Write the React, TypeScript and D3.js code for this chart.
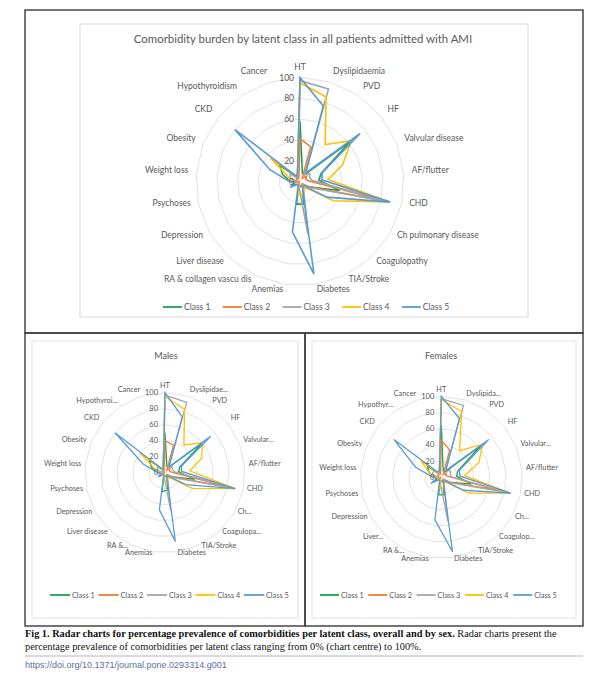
import React from 'react';
import * as d3 from 'd3';

// category order runs clockwise from the top (HT)
const categories = [
  'HT', 'Dyslipidaemia', 'PVD', 'HF', 'Valvular disease', 'AF/flutter', 'CHD',
  'Ch pulmonary disease', 'Coagulopathy', 'TIA/Stroke', 'Diabetes', 'Anemias',
  'RA & collagen vascu dis', 'Liver disease', 'Depression', 'Psychoses',
  'Weight loss', 'Obesity', 'CKD', 'Hypothyroidism', 'Cancer',
];
const maleLabels = [
  'HT', 'Dyslipidae...', 'PVD', 'HF', 'Valvular...', 'AF/flutter', 'CHD',
  'Ch...', 'Coagulopa...', 'TIA/Stroke', 'Diabetes', 'Anemias',
  'RA &...', 'Liver disease', 'Depression', 'Psychoses',
  'Weight loss', 'Obesity', 'CKD', 'Hypothyroi...', 'Cancer',
];
const femaleLabels = [
  'HT', 'Dyslipida...', 'PVD', 'HF', 'Valvular...', 'AF/flutter', 'CHD',
  'Ch...', 'Coagulop...', 'TIA/Stroke', 'Diabetes', 'Anemias',
  'RA &...', 'Liver...', 'Depression', 'Psychoses',
  'Weight loss', 'Obesity', 'CKD', 'Hypothyr...', 'Cancer',
];

const classNames = ['Class 1', 'Class 2', 'Class 3', 'Class 4', 'Class 5'];
const classColors = ['#1fa055', '#ed7d31', '#a5a5a5', '#ffc000', '#5b9bd5'];
const tickValues = [0, 20, 40, 60, 80, 100];

// % prevalence, all patients
const allClass1 = [58, 8, 8, 62, 22, 18, 39, 10, 4, 6, 22, 22, 3, 3, 8, 5, 10, 18, 25, 5, 8];
const allClass2 = [41, 35, 4, 8, 6, 8, 88, 10, 3, 4, 5, 3, 2, 2, 2, 1, 3, 4, 4, 3, 4];
const allClass3 = [97, 93, 8, 12, 10, 12, 88, 12, 4, 8, 51, 6, 3, 2, 3, 2, 4, 10, 12, 4, 8];
const allClass4 = [95, 85, 43, 63, 44, 27, 88, 37, 8, 8, 13, 13, 3, 3, 4, 4, 10, 12, 36, 7, 8];
const allClass5 = [100, 76, 10, 74, 23, 21, 89, 30, 6, 5, 90, 49, 4, 4, 11, 5, 12, 31, 80, 6, 8];

// % prevalence, males
const maleClass1 = [50, 8, 8, 60, 20, 17, 38, 10, 4, 6, 22, 24, 3, 3, 8, 5, 10, 18, 25, 4, 8];
const maleClass2 = [40, 36, 4, 8, 6, 8, 88, 10, 3, 4, 5, 3, 2, 2, 2, 1, 3, 4, 4, 2, 4];
const maleClass3 = [97, 92, 8, 12, 10, 12, 90, 12, 4, 8, 48, 6, 3, 2, 3, 2, 4, 10, 12, 3, 8];
const maleClass4 = [95, 83, 42, 60, 49, 31, 90, 39, 8, 8, 12, 12, 3, 3, 4, 4, 10, 14, 40, 5, 8];
const maleClass5 = [100, 73, 9, 73, 22, 21, 90, 30, 6, 5, 87, 47, 4, 4, 9, 5, 10, 29, 80, 5, 7];

// % prevalence, females
const femaleClass1 = [64, 8, 8, 62, 22, 19, 38, 12, 4, 6, 22, 22, 3, 3, 8, 5, 10, 16, 22, 6, 8];
const femaleClass2 = [46, 35, 4, 8, 6, 10, 72, 12, 3, 4, 6, 4, 3, 2, 3, 1, 3, 5, 5, 4, 4];
const femaleClass3 = [97, 93, 8, 14, 12, 12, 86, 14, 4, 8, 55, 8, 4, 3, 4, 2, 5, 12, 12, 6, 8];
const femaleClass4 = [96, 85, 40, 65, 50, 29, 88, 39, 8, 8, 14, 14, 3, 3, 5, 4, 10, 16, 32, 8, 8];
const femaleClass5 = [100, 76, 10, 75, 24, 23, 88, 32, 6, 5, 93, 53, 5, 4, 15, 6, 12, 34, 75, 8, 8];

const FONT = 'Lato, "Liberation Sans", Arial, sans-serif';
const SERIF = '"Liberation Serif", "Times New Roman", serif';
const TEXT = '#595959';

interface RadarProps {
  cx: number;
  cy: number;
  radius: number;
  labels: string[];
  series: number[][];
  labelSize: number;
  tickSize: number;
  labelGap: number;
  tickGap: number;
  strokeWidth: number;
}

const Radar: React.FC<RadarProps> = ({
  cx, cy, radius, labels, series, labelSize, tickSize, labelGap, tickGap, strokeWidth,
}) => {
  const n = labels.length;
  const angle = d3.scaleLinear().domain([0, n]).range([0, 2 * Math.PI]);
  const r = d3.scaleLinear().domain([0, 100]).range([0, radius]);

  const line = d3
    .lineRadial<number>()
    .angle((_, i) => angle(i))
    .radius((d) => r(d))
    .curve(d3.curveLinearClosed);

  return (
    <g>
      <g transform={`translate(${cx},${cy})`}>
        {tickValues.slice(1).map((t) => (
          <path key={t} d={line(labels.map(() => t)) ?? ''} fill="none" stroke="#d9d9d9" strokeWidth={0.8} />
        ))}
        <line x1={0} y1={0} x2={0} y2={-r(100)} stroke="#d9d9d9" strokeWidth={0.8} />
        {series.map((s, k) => (
          <path
            key={k}
            d={line(s) ?? ''}
            fill="none"
            stroke={classColors[k]}
            strokeWidth={strokeWidth}
            strokeLinejoin="miter"
          />
        ))}
        {tickValues.map((t) => (
          <text
            key={t}
            x={-tickGap}
            y={-r(t)}
            textAnchor="end"
            dominantBaseline="central"
            fontSize={tickSize}
            fill={TEXT}
            fontFamily={FONT}
          >
            {t}
          </text>
        ))}
      </g>
      {labels.map((lab, i) => {
        const a = angle(i);
        const s = Math.sin(a);
        const c = Math.cos(a);
        const rr = radius + labelGap;
        const anchor = Math.abs(s) < 0.1 ? 'middle' : s > 0 ? 'start' : 'end';
        return (
          <text
            key={lab + i}
            x={cx + rr * s}
            y={cy - rr * c - 3}
            textAnchor={anchor}
            dominantBaseline="central"
            fontSize={labelSize}
            fill={TEXT}
            fontFamily={FONT}
          >
            {lab}
          </text>
        );
      })}
    </g>
  );
};

interface LegendProps {
  x: number;
  y: number;
  step: number;
  lineLen: number;
  size: number;
}

const Legend: React.FC<LegendProps> = ({ x, y, step, lineLen, size }) => (
  <g>
    {classNames.map((name, k) => (
      <g key={name} transform={`translate(${x + k * step},${y})`}>
        <line x1={0} x2={lineLen} y1={0} y2={0} stroke={classColors[k]} strokeWidth={1.8} />
        <text x={lineLen + 2} y={0} dominantBaseline="central" fontSize={size} fill={TEXT} fontFamily={FONT}>
          {name}
        </text>
      </g>
    ))}
  </g>
);

const App: React.FC = () => {
  const allSeries = [allClass1, allClass2, allClass3, allClass4, allClass5];
  const maleSeries = [maleClass1, maleClass2, maleClass3, maleClass4, maleClass5];
  const femaleSeries = [femaleClass1, femaleClass2, femaleClass3, femaleClass4, femaleClass5];

  return (
    <div>
      <style>{'body{margin:0}'}</style>
      <svg width={600} height={680} style={{ display: 'block', background: '#fff' }}>
        {/* frames */}
        <rect x={25} y={10} width={558} height={323} fill="none" stroke="#3a3a3a" strokeWidth={1.4} />
        <rect x={25} y={333} width={280} height={293} fill="none" stroke="#3a3a3a" strokeWidth={1.4} />
        <rect x={305} y={333} width={278} height={293} fill="none" stroke="#3a3a3a" strokeWidth={1.4} />
        <rect x={80} y={24} width={448} height={293} fill="none" stroke="#d9d9d9" strokeWidth={1} />
        <rect x={32} y={341} width={266} height={277} fill="none" stroke="#e3e3e3" strokeWidth={1} />
        <rect x={312} y={341} width={264} height={277} fill="none" stroke="#e3e3e3" strokeWidth={1} />

        {/* overall */}
        <text x={303} y={38} textAnchor="middle" dominantBaseline="central" fontSize={11.4} fill={TEXT} fontFamily={FONT}>
          Comorbidity burden by latent class in all patients admitted with AMI
        </text>
        <Radar
          cx={300} cy={181.5} radius={104} labels={categories} series={allSeries}
          labelSize={8.5} tickSize={8.5} labelGap={8} tickGap={6} strokeWidth={1.6}
        />
        <Legend x={163} y={307} step={59.7} lineLen={19} size={8.5} />

        {/* males */}
        <text x={166} y={355} textAnchor="middle" dominantBaseline="central" fontSize={9} fill={TEXT} fontFamily={FONT}>
          Males
        </text>
        <Radar
          cx={165} cy={472.7} radius={80} labels={maleLabels} series={maleSeries}
          labelSize={7.3} tickSize={7.5} labelGap={4} tickGap={7} strokeWidth={1.3}
        />
        <Legend x={50} y={595} step={48.5} lineLen={20} size={7.3} />

        {/* females */}
        <text x={441} y={355} textAnchor="middle" dominantBaseline="central" fontSize={9} fill={TEXT} fontFamily={FONT}>
          Females
        </text>
        <Radar
          cx={441.3} cy={477.3} radius={81} labels={femaleLabels} series={femaleSeries}
          labelSize={7.3} tickSize={7.5} labelGap={4} tickGap={7} strokeWidth={1.3}
        />
        <Legend x={320} y={595} step={48.3} lineLen={19} size={7.3} />

        {/* caption */}
        <text x={25} y={637} fontSize={10.3} fill="#111" fontFamily={SERIF}>
          <tspan fontWeight="bold">
            Fig 1. Radar charts for percentage prevalence of comorbidities per latent class, overall and by sex.
          </tspan>
          <tspan> Radar charts present the</tspan>
        </text>
        <text x={25} y={650} fontSize={10.3} fill="#111" fontFamily={SERIF}>
          percentage prevalence of comorbidities per latent class ranging from 0% (chart centre) to 100%.
        </text>
        <line x1={25} x2={583} y1={656} y2={656} stroke="#b5b5b5" strokeWidth={1} />
        <text x={25} y={668} fontSize={9} fill="#5b6f9c" fontFamily='"Liberation Sans", Arial, sans-serif'>
          https://doi.org/10.1371/journal.pone.0293314.g001
        </text>
      </svg>
    </div>
  );
};

export default App;
